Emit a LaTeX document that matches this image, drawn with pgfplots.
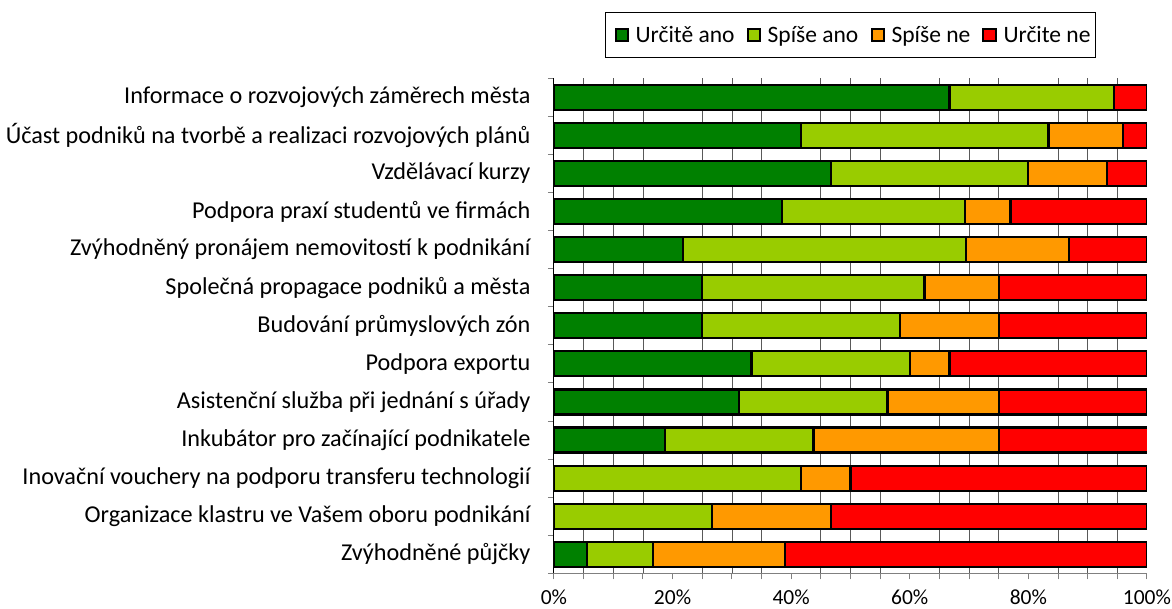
\documentclass[border=0pt]{standalone}
\usepackage{fontspec}
\setmainfont{Carlito}
\usepackage{pgfplots}
\pgfplotsset{compat=1.18}
\definecolor{cg}{HTML}{008000}
\definecolor{clg}{HTML}{99CC00}
\definecolor{co}{HTML}{FF9900}
\definecolor{cr}{HTML}{FF0000}
\pgfplotsset{
  barsty/.style={draw=black, line width=2.2pt,
    legend image code/.code={\path (-6pt,0pt); \path (17pt,0pt); \draw[##1, line width=2pt] (0pt,-6.3pt) rectangle (12.6pt,6.3pt);}},
}
\begin{document}
\begin{tikzpicture}
\begin{axis}[
  scale only axis, width=593pt, height=495pt,
  xbar stacked, bar width=25pt,
  xmin=0, xmax=100, ymin=-0.5, ymax=12.5,
  axis x line=bottom, axis y line=left,
  x axis line style={-, draw=gray, line width=1pt},
  y axis line style={-, draw=black, line width=1pt},
  tick align=outside, major tick length=6pt, minor tick length=6pt,
  xtick={0,20,...,100},
  minor xtick={5,10,15,25,30,35,45,50,55,65,70,75,85,90,95},
  xticklabels={0\%,20\%,40\%,60\%,80\%,100\%},
  x tick style={draw=gray, line width=1pt},
  xminorgrids=true,
  minor x grid style={draw=black!65, line width=0.7pt},
  ytick={0,...,12},
  minor ytick={-0.5,0.5,...,12.5},
  major y tick style={draw=none},
  minor y tick style={draw=gray, line width=1pt},
  yticklabels={Zvýhodněné půjčky,Organizace klastru ve Vašem oboru podnikání,Inovační vouchery na podporu transferu technologií,Inkubátor pro začínající podnikatele,Asistenční služba při jednání s úřady,Podpora exportu,Budování průmyslových zón,Společná propagace podniků a města,Zvýhodněný pronájem nemovitostí k podnikání,Podpora praxí studentů ve firmách,Vzdělávací kurzy,Účast podniků na tvorbě a realizaci rozvojových plánů,Informace o rozvojových záměrech města},
  yticklabel style={font=\fontsize{24.2}{27}\selectfont, text=black, xshift=-14pt},
  xticklabel style={font=\fontsize{21.5}{24}\selectfont, text=black, yshift=-7pt},
  legend columns=4,
  legend style={at={(rel axis cs:0.5,1.0875)}, anchor=center, draw=black, line width=0.8pt,
    font=\fontsize{23.5}{26}\selectfont, inner xsep=3pt, inner ysep=12pt,
    /tikz/every even column/.append style={column sep=4pt}},
]
\addplot[barsty, fill=cg] coordinates {(66.7,12) (41.7,11) (46.7,10) (38.5,9) (21.7,8) (25,7) (25,6) (33.3,5) (31.25,4) (18.75,3) (0,2) (0,1) (5.6,0)};
\addplot[barsty, fill=clg] coordinates {(27.8,12) (41.7,11) (33.3,10) (30.8,9) (47.8,8) (37.5,7) (33.3,6) (26.7,5) (25,4) (25,3) (41.7,2) (26.7,1) (11.1,0)};
\addplot[barsty, fill=co] coordinates {(0,12) (12.5,11) (13.3,10) (7.7,9) (17.4,8) (12.5,7) (16.7,6) (6.7,5) (18.75,4) (31.25,3) (8.3,2) (20,1) (22.2,0)};
\addplot[barsty, fill=cr] coordinates {(5.5,12) (4.1,11) (6.7,10) (23.0,9) (13.1,8) (25,7) (25,6) (33.3,5) (25,4) (31.25,3) (50,2) (53.3,1) (61.1,0)};
\legend{Určitě ano,Spíše ano,Spíše ne,Určite ne}
\coordinate (bl) at (rel axis cs:-0.9342,-0.0701);
\coordinate (tr) at (rel axis cs:1.0422,1.1582);
\end{axis}
\pgfresetboundingbox
\path[use as bounding box] (bl) rectangle (tr);
\end{tikzpicture}
\end{document}
